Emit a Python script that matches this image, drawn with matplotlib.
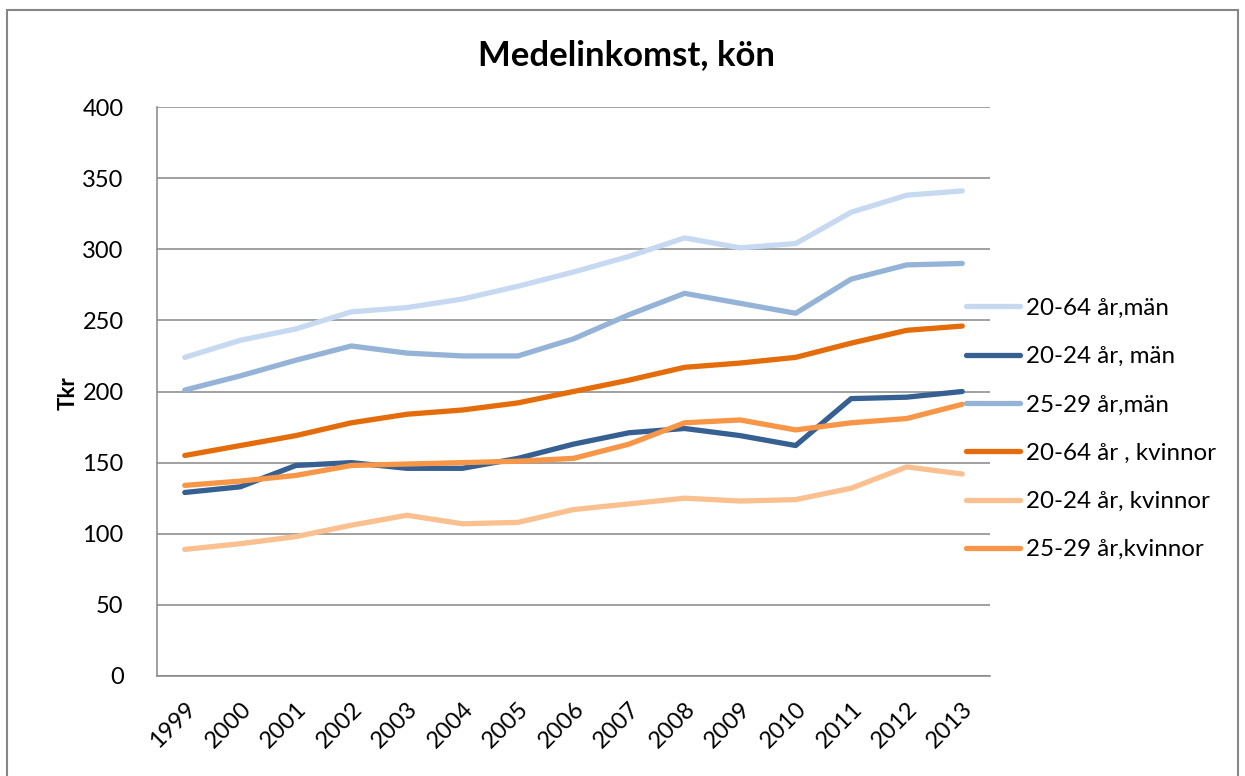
import matplotlib
matplotlib.use("Agg")
import matplotlib.pyplot as plt
from matplotlib.patches import Rectangle
import numpy as np

plt.rcParams['font.family'] = ['Lato', 'DejaVu Sans']

years = [str(y) for y in range(1999, 2014)]

men_20_64 = [224, 236, 244, 256, 259, 265, 274, 284, 295, 308, 301, 304, 326, 338, 341]
men_20_24 = [129, 133, 148, 150, 146, 146, 153, 163, 171, 174, 169, 162, 195, 196, 200]
men_25_29 = [201, 211, 222, 232, 227, 225, 225, 237, 254, 269, 262, 255, 279, 289, 290]
women_20_64 = [155, 162, 169, 178, 184, 187, 192, 200, 208, 217, 220, 224, 234, 243, 246]
women_20_24 = [89, 93, 98, 106, 113, 107, 108, 117, 121, 125, 123, 124, 132, 147, 142]
women_25_29 = [134, 137, 141, 148, 149, 150, 151, 153, 163, 178, 180, 173, 178, 181, 191]

series = [
    ("20-64 år,män", men_20_64, "#C6D9F1"),
    ("20-24 år, män", men_20_24, "#376092"),
    ("25-29 år,män", men_25_29, "#95B3D7"),
    ("20-64 år , kvinnor", women_20_64, "#E46C0A"),
    ("20-24 år, kvinnor", women_20_24, "#FAC090"),
    ("25-29 år,kvinnor", women_25_29, "#F79646"),
]

W, H = 1245, 776
fig = plt.figure(figsize=(W / 100, H / 100), dpi=100)
ax = fig.add_axes([157 / W, 1 - 676 / H, (990 - 157) / W, (676 - 107) / H])

x = np.arange(len(years))
handles = []
for label, vals, color in series:
    h, = ax.plot(x, vals, color=color, lw=3.8, solid_capstyle='round',
                 solid_joinstyle='round', label=label, zorder=3)
    handles.append(h)

ax.set_xlim(-0.5, len(years) - 0.5)
ax.set_ylim(0, 400)
ax.set_yticks(range(0, 401, 50))
ax.set_xticks(x)
ax.set_xticklabels(years, rotation=45, ha='right', rotation_mode='anchor')
ax.tick_params(axis='both', length=0, labelsize=17, colors='black')
ax.tick_params(axis='y', pad=24)
ax.tick_params(axis='x', pad=16)
ax.grid(axis='y', color='#868686', lw=1.1, zorder=1)
for s in ['top', 'right']:
    ax.spines[s].set_visible(False)
for s in ['left', 'bottom']:
    ax.spines[s].set_color('#868686')
    ax.spines[s].set_linewidth(1.1)

fig.text(626 / W, 1 - 55 / H, "Medelinkomst, kön", fontsize=25, fontweight='bold',
         ha='center', va='center')
fig.text(68 / W, 1 - 393 / H, "Tkr", fontsize=16, fontweight='bold',
         rotation=90, ha='center', va='center')

fig.legend(handles=handles, loc='center left', bbox_to_anchor=(966 / W, 1 - 429 / H),
           frameon=False, fontsize=17.4, handlelength=2.25, handletextpad=0.25,
           labelspacing=1.13, borderpad=0, borderaxespad=0)

fig.patches.append(Rectangle((7 / W, -0.05), (1238 - 7) / W, 1.05 - 10 / H,
                             transform=fig.transFigure, fill=False,
                             edgecolor='#868686', lw=1.5))

fig.savefig("out.png", dpi=100)
